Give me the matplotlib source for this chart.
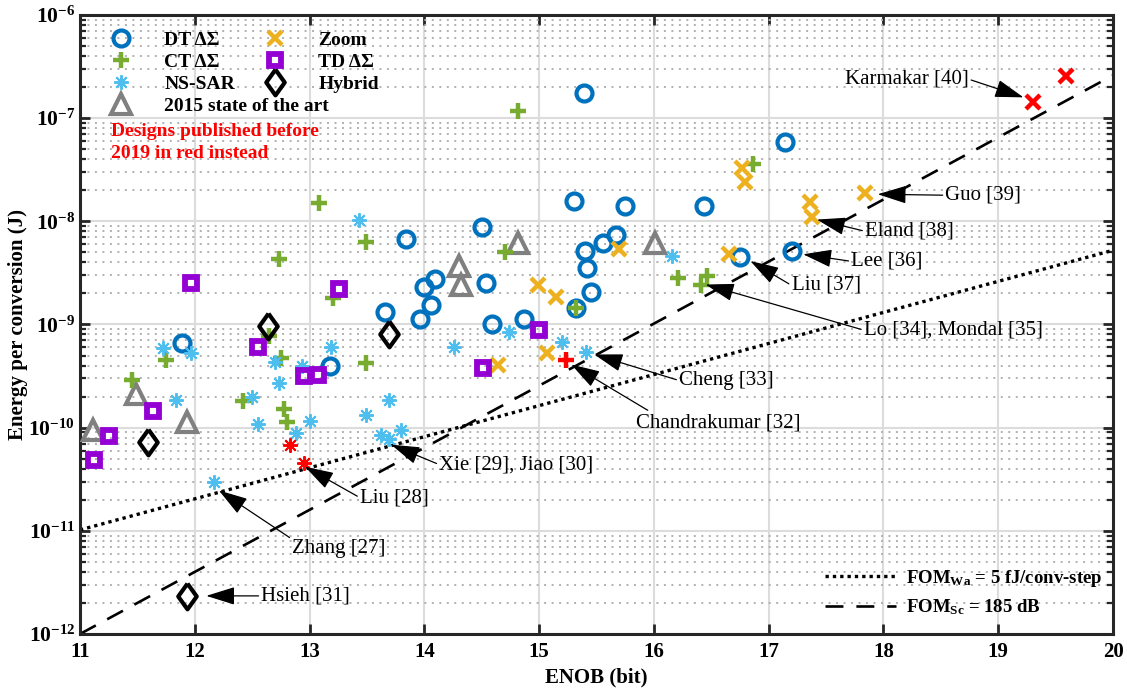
import matplotlib
matplotlib.use("Agg")
import matplotlib.pyplot as plt
from matplotlib.lines import Line2D
from matplotlib.ticker import LogLocator, NullFormatter

# ========== 字体设置 ==========
plt.rcParams['font.family'] = ['Liberation Serif', 'DejaVu Serif']
plt.rcParams['mathtext.fontset'] = 'custom'
plt.rcParams['mathtext.rm'] = 'Liberation Serif:bold'
plt.rcParams['mathtext.bf'] = 'Liberation Serif:bold'
plt.rcParams['mathtext.it'] = 'Liberation Serif:bold:italic'

# ========== 数据 (ENOB, 能量 J) ==========
dt_enob = [15.39, 15.30, 15.75, 16.44, 17.14, 14.50, 13.84, 15.40, 15.56, 15.67,
           15.42, 14.54, 14.09, 14.00, 14.06, 13.96, 15.45, 15.32, 14.59, 14.87,
           13.66, 13.18, 11.89, 16.75, 17.20]
dt_energy = [1.74e-7, 1.57e-8, 1.41e-8, 1.40e-8, 5.85e-8, 8.87e-9, 6.79e-9, 5.15e-9, 6.21e-9, 7.39e-9,
             3.56e-9, 2.54e-9, 2.74e-9, 2.30e-9, 1.53e-9, 1.12e-9, 2.06e-9, 1.45e-9, 1.02e-9, 1.12e-9,
             1.33e-9, 3.94e-10, 6.64e-10, 4.54e-9, 5.15e-9]

ct_enob = [14.82, 13.08, 13.49, 12.73, 14.70, 13.20, 12.65, 12.75, 13.49, 11.75,
           11.45, 12.42, 12.78, 12.80, 15.32, 16.21, 16.46, 16.41, 16.86]
ct_energy = [1.18e-7, 1.50e-8, 6.35e-9, 4.35e-9, 5.08e-9, 1.82e-9, 7.81e-10, 4.68e-10, 4.25e-10, 4.50e-10,
             2.89e-10, 1.80e-10, 1.50e-10, 1.14e-10, 1.45e-9, 2.84e-9, 2.94e-9, 2.44e-9, 3.57e-8]
ct_old_enob = [15.23]
ct_old_energy = [4.50e-10]

sar_enob = [13.43, 16.16, 11.72, 11.97, 12.70, 12.93, 13.19, 12.73, 11.84, 12.50,
            12.55, 13.00, 12.88, 13.69, 13.49, 13.62, 13.69, 13.80, 12.17, 14.26,
            14.74, 15.20, 15.41]
sar_energy = [1.03e-8, 4.60e-9, 5.94e-10, 5.31e-10, 4.34e-10, 3.94e-10, 6.03e-10, 2.72e-10, 1.87e-10, 1.99e-10,
              1.09e-10, 1.15e-10, 8.94e-11, 1.84e-10, 1.34e-10, 8.55e-11, 7.76e-11, 9.57e-11, 2.94e-11, 6.03e-10,
              8.41e-10, 6.79e-10, 5.38e-10]
sar_old_enob = [12.83, 12.95]
sar_old_energy = [6.73e-11, 4.57e-11]

soa_enob = [14.82, 16.01, 14.30, 14.32, 11.49, 11.93, 11.11]
soa_energy = [6.11e-9, 6.11e-9, 3.68e-9, 2.39e-9, 2.14e-10, 1.13e-10, 9.57e-11]

zoom_enob = [16.77, 16.79, 17.84, 17.36, 17.38, 16.65, 15.70, 14.99, 15.15, 15.07, 14.64]
zoom_energy = [3.25e-8, 2.38e-8, 1.87e-8, 1.54e-8, 1.10e-8, 4.79e-9, 5.35e-9, 2.44e-9, 1.84e-9, 5.31e-10, 4.03e-10]
zoom_old_enob = [19.30, 19.59]
zoom_old_energy = [1.42e-7, 2.58e-7]

td_enob = [11.97, 13.26, 12.55, 12.95, 13.07, 11.64, 11.25, 11.12, 15.00, 14.51]
td_energy = [2.50e-9, 2.22e-9, 6.07e-10, 3.15e-10, 3.22e-10, 1.46e-10, 8.24e-11, 4.89e-11, 8.81e-10, 3.80e-10]

hyb_enob = [12.64, 13.69, 11.59, 11.93]
hyb_energy = [9.77e-10, 8.13e-10, 7.26e-11, 2.34e-12]

# FOM 参考线 (端点)
fom_enob = [11, 20]
fom_wa_energy = [1.02e-11, 5.24e-9]
fom_sc_energy = [1.0e-12, 2.6e-7]

# 标注: (文本, 文本位置, 箭头指向, ha, relpos)
notes = [
    ("Karmakar [40]", (18.74, 2.39e-7), (19.22, 1.59e-7), 'right', (1, 0.5)),
    ("Guo [39]", (18.54, 1.79e-8), (17.95, 1.83e-8), 'left', (0, 0.5)),
    ("Eland [38]", (17.84, 8.0e-9), (17.42, 1.04e-8), 'left', (0, 0.5)),
    ("Lee [36]", (17.72, 4.09e-9), (17.30, 4.79e-9), 'left', (0, 0.5)),
    ("Liu [37]", (17.20, 2.39e-9), (16.84, 4.12e-9), 'left', (0, 0.5)),
    ("Lo [34], Mondal [35]", (17.83, 8.8e-10), (16.45, 2.44e-9), 'left', (0, 0.5)),
    ("Cheng [33]", (16.22, 2.86e-10), (15.48, 5.12e-10), 'left', (0, 0.5)),
    ("Chandrakumar [32]", (16.56, 1.12e-10), (15.28, 4.09e-10), 'center', (0.1, 1.0)),
    ("Xie [29], Jiao [30]", (14.13, 4.38e-11), (13.71, 6.84e-11), 'left', (0, 0.5)),
    ("Liu [28]", (13.44, 2.09e-11), (12.96, 4.18e-11), 'left', (0, 0.5)),
    ("Zhang [27]", (12.85, 6.68e-12), (12.21, 2.46e-11), 'left', (0, 1.0)),
    ("Hsieh [31]", (12.58, 2.34e-12), (12.10, 2.34e-12), 'left', (0, 0.5)),
]

# ========== 样式 ==========
BLUE = '#0072BD'
GREEN = '#77AC30'
CYAN = '#4DBEEE'
GRAY = '#808080'
ORANGE = '#EDB120'
PURPLE = '#9400D3'
RED = '#FF0000'
DIAMOND = [(0, 1), (0.72, 0), (0, -1), (-0.72, 0), (0, 1)]

styles = {
    'dt': dict(marker='o', ms=11.5, mew=3.0, mfc='none', mec=BLUE),
    'ct': dict(marker='+', ms=11.5, mew=3.2, mec=GREEN),
    'sar': dict(marker=(8, 2, 0), ms=10.5, mew=1.4, mec=CYAN),
    'soa': dict(marker='^', ms=15, mew=3.0, mfc='none', mec=GRAY),
    'zoom': dict(marker='x', ms=9.5, mew=3.2, mec=ORANGE),
    'td': dict(marker='s', ms=8.5, mew=4.2, mfc='none', mec=PURPLE),
    'hyb': dict(marker=DIAMOND, ms=18.5, mew=3.0, mfc='none', mec='k'),
}

fig = plt.figure(figsize=(11.27, 6.9), dpi=100)
ax = fig.add_axes([0.0710, 0.0812, 0.9166, 0.8971])

# 参考线
ax.plot(fom_enob, fom_wa_energy, color='k', lw=2.4, linestyle=(0, (1, 1.2)), zorder=2)
ax.plot(fom_enob, fom_sc_energy, color='k', lw=1.9, linestyle=(0, (6.8, 4.9)), zorder=2)


def scatter(x, y, key, color=None):
    st = dict(styles[key])
    if color is not None:
        st['mec'] = color
    ax.plot(x, y, linestyle='none', zorder=3, **st)


scatter(soa_enob, soa_energy, 'soa')
scatter(dt_enob, dt_energy, 'dt')
scatter(ct_enob, ct_energy, 'ct')
scatter(ct_old_enob, ct_old_energy, 'ct', RED)
scatter(sar_enob, sar_energy, 'sar')
scatter(sar_old_enob, sar_old_energy, 'sar', RED)
scatter(zoom_enob, zoom_energy, 'zoom')
scatter(zoom_old_enob, zoom_old_energy, 'zoom', RED)
scatter(td_enob, td_energy, 'td')
scatter(hyb_enob, hyb_energy, 'hyb')

# 标注
for label, xytext, xy, ha, rel in notes:
    ax.annotate(label, xy=xy, xytext=xytext, ha=ha, va='center', fontsize=15,
                arrowprops=dict(arrowstyle='-|>,head_length=0.9,head_width=0.28',
                                color='k', lw=0.9, shrinkA=0, shrinkB=0,
                                mutation_scale=20, relpos=rel),
                zorder=4)

# 坐标轴
ax.set_yscale('log')
ax.set_xlim(11, 20)
ax.set_ylim(1e-12, 1e-6)
ax.set_xticks(range(11, 21))
ax.set_xticklabels([str(v) for v in range(11, 21)], fontsize=15, fontweight='bold')
yt = [10.0 ** e for e in range(-12, -5)]
ax.set_yticks(yt)
ax.set_yticklabels([r'$10^{%d}$' % e for e in range(-12, -5)], fontsize=15.5)
ax.yaxis.set_minor_locator(LogLocator(base=10, subs=range(2, 10), numticks=20))
ax.yaxis.set_minor_formatter(NullFormatter())
ax.tick_params(which='both', direction='in', top=True, right=True, color='#262626')
ax.tick_params(which='major', length=7, width=2)
ax.tick_params(which='minor', length=4, width=1.6)
ax.tick_params(axis='x', pad=6)
for s in ax.spines.values():
    s.set_linewidth(2.2)
    s.set_color('#262626')

ax.grid(True, which='major', color='#dcdcdc', lw=1.5, zorder=0)
ax.grid(True, which='minor', axis='y', color='#b0b0b0', lw=1.4, linestyle=(0, (1, 2.85)))
ax.set_axisbelow(True)

ax.set_xlabel('ENOB (bit)', fontsize=15, fontweight='bold', labelpad=4)
ax.set_ylabel('Energy per conversion (J)', fontsize=15, fontweight='bold', labelpad=0)

# 图例
def handle(key):
    return Line2D([], [], linestyle='none', **styles[key])

leg_kw = dict(frameon=False, borderpad=0, borderaxespad=0, handlelength=2,
              handletextpad=1.2, labelspacing=0.23, loc='upper left',
              bbox_transform=fig.transFigure, prop={'weight': 'bold', 'size': 14})
leg1 = ax.legend([handle('dt'), handle('ct'), handle('sar'), handle('soa')],
                 ['DT ΔΣ', 'CT ΔΣ', 'NS-SAR', '2015 state of the art'],
                 bbox_to_anchor=(102 / 1127, 1 - 31 / 690), **leg_kw)
ax.add_artist(leg1)
leg2 = ax.legend([handle('zoom'), handle('td'), handle('hyb')],
                 ['Zoom', 'TD ΔΣ', 'Hybrid'],
                 bbox_to_anchor=(256 / 1127, 1 - 31 / 690), **leg_kw)
ax.add_artist(leg2)

h_wa = Line2D([], [], color='k', lw=2.4, linestyle=(0, (1, 1.2)))
h_sc = Line2D([], [], color='k', lw=1.9, linestyle=(0, (6.8, 4.9)))
ax.legend([h_wa, h_sc], [r'FOM$_{\rm Wa}$ = 5 fJ/conv-step', r'FOM$_{\rm Sc}$ = 185 dB'],
          frameon=False, borderpad=0, borderaxespad=0, handlelength=3.8, handletextpad=0.5,
          labelspacing=0.45, loc='upper left', bbox_to_anchor=(825 / 1127, 1 - 568 / 690),
          bbox_transform=fig.transFigure, prop={'weight': 'bold', 'size': 13.5})

fig.text(111 / 1127, 1 - 131.7 / 690, 'Designs published before', color=RED,
         fontsize=14, fontweight='bold', va='center', ha='left')
fig.text(111 / 1127, 1 - 153 / 690, '2019 in red instead', color=RED,
         fontsize=14, fontweight='bold', va='center', ha='left')

fig.savefig('out.png', dpi=100)
